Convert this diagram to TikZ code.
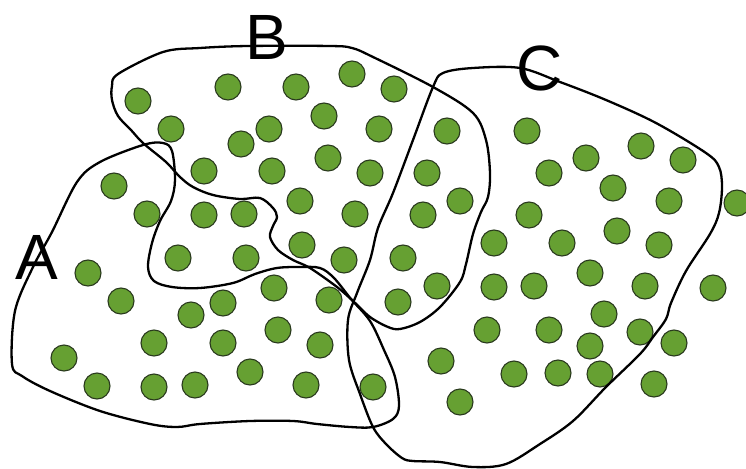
\documentclass[tikz,border=0pt]{standalone}
\usepackage{fontspec}
\setmainfont{Liberation Sans}
\definecolor{dotgreen}{HTML}{66A032}
\definecolor{dotedge}{HTML}{2A3A1E}
\begin{document}
\begin{tikzpicture}[x=1pt,y=-1pt,
  setline/.style={line width=2.3pt, black, line join=round},
  dotstyle/.style={fill=dotgreen, draw=dotedge, line width=1.1pt},
  setlabel/.style={font=\fontsize{64}{64}\selectfont, inner sep=0pt, anchor=base}]
\useasboundingbox (0,0) rectangle (746,468);
\clip (0,0) rectangle (746,468);
% dots
\foreach \x/\y in {
 138/101, 228/87, 296/87, 352/74, 394/89,
 171/129, 241/144, 269/129, 324/116, 379/129,
 204/171, 272/171, 328/158, 370/173,
 114/186, 147/214, 204/215, 244/214, 300/201, 355/214,
 178/258, 246/258, 302/245, 344/260,
 88/273, 121/301, 191/315, 223/303, 274/288, 329/300,
 154/343, 223/343, 278/330, 320/345,
 64/358, 97/386, 154/387, 195/385, 250/372, 306/385, 373/387,
 447/131, 527/131, 427/173, 460/201, 423/215,
 549/173, 586/158, 641/146, 683/160, 613/188, 669/201, 737/203,
 529/215, 494/243, 562/243, 617/231, 659/245,
 403/258, 437/286, 398/302, 494/287, 534/286, 590/273, 645/286, 713/288,
 604/314, 487/330, 549/330, 590/346, 640/332, 674/343,
 441/361, 514/374, 558/373, 600/374, 654/384, 460/402}
 \fill[dotstyle] (\x,\y) circle (13);
% set A
\draw[setline] plot[smooth cycle, tension=0.55] coordinates {
 (12,364) (15,311) (33,267) (52,232) (77,182) (100,162) (143,145) (163,143)
 (172,151) (175,180) (171,201) (160,221) (152,243) (148,267) (154,281)
 (172,287) (200,288) (233,283) (255,274) (277,268) (300,267) (320,268)
 (334,278) (351,299) (370,321) (384,350) (395,377) (399,406) (393,419)
 (373,427) (350,427) (317,424) (293,421) (250,421) (200,424) (177,427)
 (150,424) (100,411) (50,391) (22,376)};
% set B
\draw[setline] plot[smooth cycle, tension=0.55] coordinates {
 (118,74) (163,52) (200,48) (248,46) (330,46) (352,48) (373,57) (433,87)
 (473,113) (486,140) (490,173) (488,197) (481,212) (473,234) (466,264)
 (460,282) (440,307) (420,322) (400,329) (388,327) (370,317) (353,301)
 (337,287) (310,268) (293,260) (278,250) (270,237) (273,226) (277,217)
 (273,208) (260,198) (240,199) (213,195) (193,187) (180,177) (166,162)
 (143,143) (131,130) (118,116) (112,100) (112,86)};
% set C
\draw[setline] plot[smooth cycle, tension=0.55] coordinates {
 (443,73) (473,68) (520,68) (560,82) (606,100) (656,123) (706,153)
 (719,167) (722,187) (719,213) (710,234) (686,271) (671,303) (666,319)
 (653,337) (640,354) (606,387) (573,421) (540,444) (506,464) (473,467)
 (440,462) (413,461) (402,458) (386,444) (373,427) (360,394) (349,360)
 (348,320) (357,293) (370,260) (378,228) (393,193) (413,140) (433,87)};
% labels
\node[setlabel] (labA) at (37,279) {A};
\node[setlabel] (labB) at (267,60) {B};
\node[setlabel] (labC) at (540,91) {C};
\end{tikzpicture}
\end{document}
